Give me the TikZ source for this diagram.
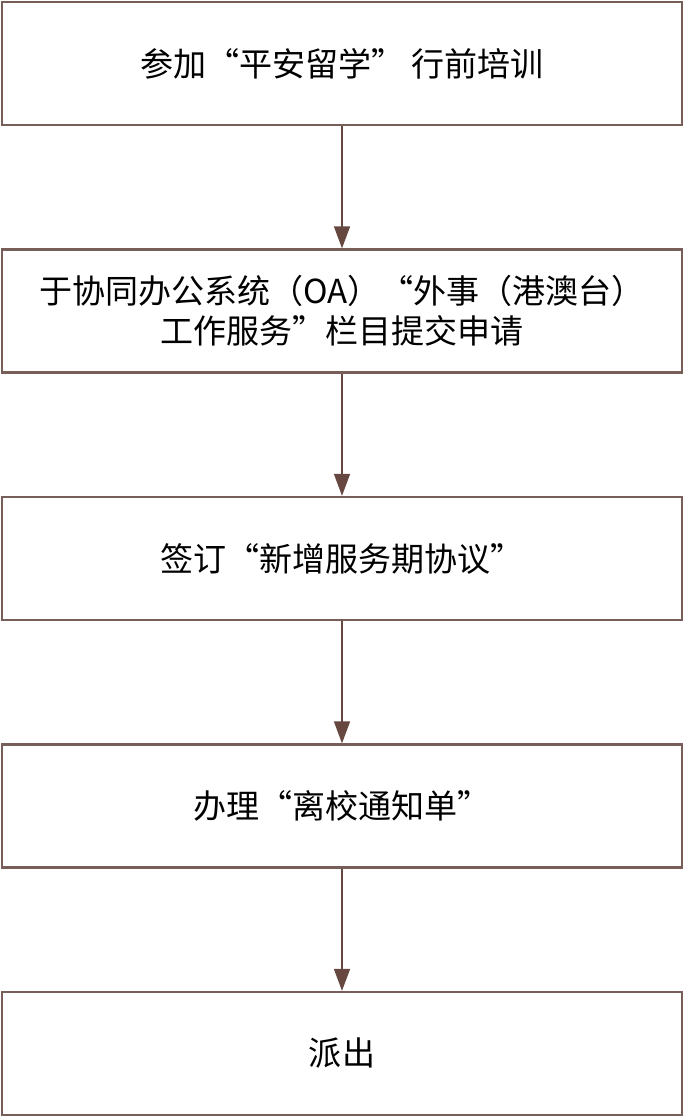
\documentclass[tikz,border=0pt]{standalone}
\usepackage{fontspec}
\setmainfont{Noto Sans CJK SC}
\usetikzlibrary{arrows.meta}
\definecolor{boxline}{RGB}{120,94,88}
\definecolor{arrowline}{RGB}{102,72,64}
\tikzset{
  stepbox/.style={draw=boxline, line width=0.045cm, minimum width=13.6cm,
    minimum height=2.46cm, align=center, inner sep=0pt},
  flowarrow/.style={draw=arrowline, line width=0.03cm,
    -{Triangle[length=0.44cm, width=0.32cm]}}
}
\begin{document}
\begin{tikzpicture}
            \useasboundingbox (0.000000,0.000000) rectangle (13.680000,22.340000);
            {\fontsize{18.8pt}{22.8pt}\selectfont

            % Drawing step boxes
            \node [stepbox] (train) at (6.840000,21.070000) {参加“平安留学” 行前培训};%
            \node [stepbox] (apply) at (6.840000,16.120000) {于协同办公系统（OA）“外事（港澳台）\\工作服务”栏目提交申请};%
            \node [stepbox] (sign) at (6.840000,11.170000) {签订“新增服务期协议”};%
            \node [stepbox] (leave) at (6.840000,6.220000) {办理“离校通知单”};%
            \node [stepbox] (depart) at (6.840000,1.270000) {派出};%

            % Drawing arrows between boxes
            \draw [flowarrow] (train) -- (apply);%
            \draw [flowarrow] (apply) -- (sign);%
            \draw [flowarrow] (sign) -- (leave);%
            \draw [flowarrow] (leave) -- (depart);%
            }
        \end{tikzpicture}
\end{document}
